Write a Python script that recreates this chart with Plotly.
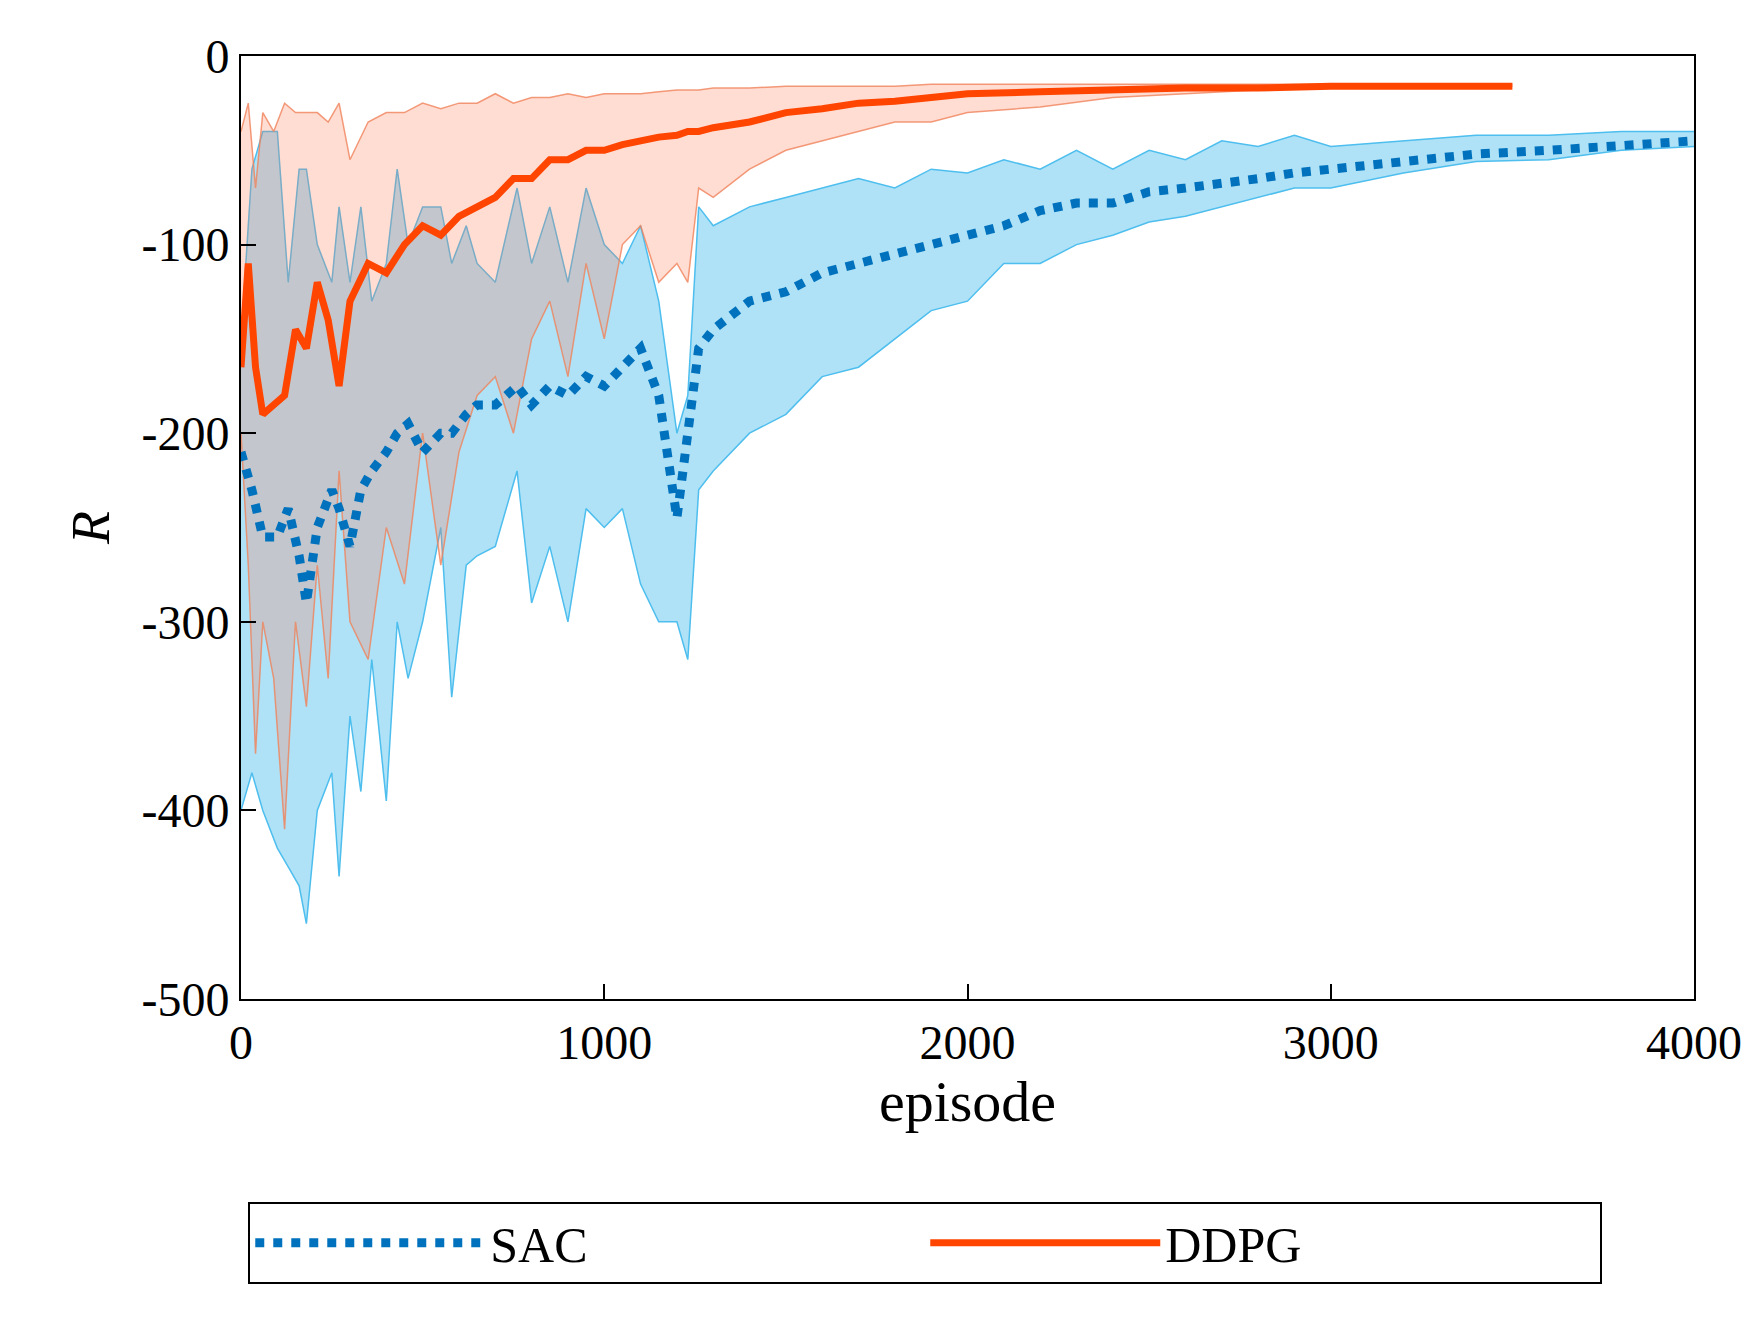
import plotly.graph_objects as go

sac_x = [0,30,60,100,130,160,180,210,250,270,300,330,360,400,430,460,500,550,580,620,650,700,760,800,850,900,950,1000,1050,1100,1150,1200,1230,1260,1300,1400,1500,1600,1700,1800,1900,2000,2100,2200,2300,2400,2500,2600,2700,2800,2900,3000,3200,3400,3600,3800,4000]
sac_mean = [-210,-230,-255,-255,-240,-265,-290,-250,-230,-240,-260,-230,-220,-210,-200,-195,-210,-200,-200,-190,-185,-185,-175,-185,-175,-180,-170,-175,-165,-155,-180,-245,-200,-155,-145,-130,-125,-115,-110,-105,-100,-95,-90,-82,-78,-78,-72,-70,-68,-65,-62,-60,-57,-52,-50,-47,-45]
sac_upper = [-150,-60,-40,-40,-120,-60,-60,-100,-120,-80,-120,-80,-130,-110,-60,-100,-80,-80,-110,-90,-110,-120,-70,-110,-80,-120,-70,-100,-110,-90,-130,-200,-180,-80,-90,-80,-75,-70,-65,-70,-60,-62,-55,-60,-50,-60,-50,-55,-45,-48,-42,-48,-45,-42,-42,-40,-40]
sac_lower = [-400,-380,-400,-420,-430,-440,-460,-400,-380,-435,-350,-390,-320,-395,-300,-330,-300,-250,-340,-270,-265,-260,-220,-290,-260,-300,-240,-250,-240,-280,-300,-300,-320,-230,-220,-200,-190,-170,-165,-150,-135,-130,-110,-110,-100,-95,-88,-85,-80,-75,-70,-70,-62,-56,-55,-50,-48]

ddpg_x = [0,20,40,60,90,120,150,180,210,240,270,300,350,400,450,500,550,600,650,700,750,800,850,900,950,1000,1050,1100,1150,1200,1230,1260,1300,1400,1500,1600,1700,1800,1900,2000,2200,2400,2600,2800,3000,3500]
ddpg_mean = [-165,-110,-165,-190,-185,-180,-145,-155,-120,-140,-175,-130,-110,-115,-100,-90,-95,-85,-80,-75,-65,-65,-55,-55,-50,-50,-47,-45,-43,-42,-40,-40,-38,-35,-30,-28,-25,-24,-22,-20,-19,-18,-17,-17,-16,-16]
ddpg_upper = [-40,-25,-70,-30,-40,-25,-30,-30,-30,-35,-25,-55,-35,-30,-30,-25,-28,-25,-25,-20,-25,-22,-22,-20,-22,-20,-20,-20,-19,-18,-18,-18,-17,-17,-16,-16,-16,-16,-15,-15,-15,-15,-15,-15,-15,-15]
ddpg_lower = [-200,-270,-370,-300,-330,-410,-300,-345,-270,-330,-220,-300,-320,-250,-280,-200,-270,-210,-180,-170,-200,-150,-130,-170,-110,-150,-100,-90,-120,-110,-120,-70,-75,-60,-50,-45,-40,-35,-35,-30,-27,-22,-20,-18,-17,-16]

y_ticks = [0, -100, -200, -300, -400, -500]
y_ticktext = ["0", "-100", "-200", "-300", "-400", "-500"]
x_ticks = [0, 1000, 2000, 3000, 4000]

fig = go.Figure()
fig.add_trace(go.Scatter(x=sac_x, y=sac_lower, mode="lines", line=dict(color="#4DBEEE", width=1.5), showlegend=False, hoverinfo="skip"))
fig.add_trace(go.Scatter(x=sac_x, y=sac_upper, mode="lines", line=dict(color="#4DBEEE", width=1.5), fill="tonexty", fillcolor="rgba(77,190,238,0.45)", showlegend=False, hoverinfo="skip"))
fig.add_trace(go.Scatter(x=ddpg_x, y=ddpg_lower, mode="lines", line=dict(color="rgba(240,130,90,0.8)", width=1.5), showlegend=False, hoverinfo="skip"))
fig.add_trace(go.Scatter(x=ddpg_x, y=ddpg_upper, mode="lines", line=dict(color="rgba(240,130,90,0.8)", width=1.5), fill="tonexty", fillcolor="rgba(255,120,80,0.25)", showlegend=False, hoverinfo="skip"))
fig.add_trace(go.Scatter(x=sac_x, y=sac_mean, mode="lines", name="SAC", line=dict(color="#0072BD", width=9, dash="dot")))
fig.add_trace(go.Scatter(x=ddpg_x, y=ddpg_mean, mode="lines", name="DDPG", line=dict(color="#FF4500", width=7)))

axis_common = dict(showline=True, linecolor="black", linewidth=2, mirror=True, ticks="inside", ticklen=15, tickwidth=2, tickcolor="black", showgrid=False, zeroline=False, tickfont=dict(size=48, family="Liberation Serif", color="black"))
fig.update_xaxes(range=[0, 4000], tickvals=x_ticks, title=dict(text="episode", font=dict(size=58, family="Liberation Serif", color="black"), standoff=5), **axis_common)
fig.update_yaxes(range=[-500, 0], tickvals=y_ticks, ticktext=y_ticktext, title=dict(text="<i>R</i>", font=dict(size=54, family="Liberation Serif", color="black"), standoff=15), **axis_common)

fig.update_layout(
    width=1756, height=1320, plot_bgcolor="white", paper_bgcolor="white",
    margin=dict(l=233, r=70, t=48, b=329),
    legend=dict(orientation="h", traceorder="normal", x=0.005, y=-0.215, xanchor="left", yanchor="top", bordercolor="black", borderwidth=2, bgcolor="white",
                font=dict(size=50, family="Liberation Serif", color="black"), itemwidth=230, entrywidth=430, entrywidthmode="pixels"),
)
fig.write_html("out.html")
